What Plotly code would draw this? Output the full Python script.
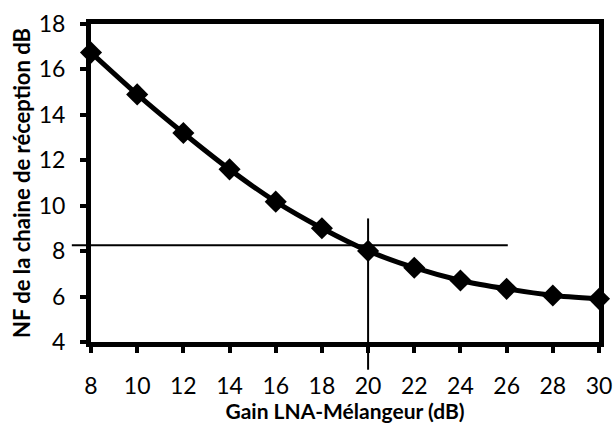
import plotly.graph_objects as go

gain_db = [8, 10, 12, 14, 16, 18, 20, 22, 24, 26, 28, 30]
nf_db = [16.74, 14.90, 13.20, 11.60, 10.18, 9.01, 8.01, 7.27, 6.71, 6.34, 6.05, 5.90]

x_ticks = list(range(8, 31, 2))
y_ticks = list(range(4, 19, 2))
x_range = [8, 30]
y_range = [4, 18]

# reference lines
hline_y = 8.26
hline_x = (7.17, 26.05)
vline_x = 20
vline_y = (2.78, 9.44)

font_family = "Lato, Open Sans, sans-serif"

fig = go.Figure()
fig.add_trace(go.Scatter(
    x=gain_db, y=nf_db, mode="lines+markers",
    line=dict(color="black", width=5, shape="spline", smoothing=0.6),
    marker=dict(symbol="diamond", size=17, color="black"),
    cliponaxis=False, showlegend=False, hoverinfo="skip",
))

def xp(v):
    return (v - x_range[0]) / (x_range[1] - x_range[0])

def yp(v):
    return (v - y_range[0]) / (y_range[1] - y_range[0])

fig.add_shape(type="line", xref="paper", yref="y",
              x0=xp(hline_x[0]), x1=xp(hline_x[1]), y0=hline_y, y1=hline_y,
              line=dict(color="black", width=2), layer="below")
fig.add_shape(type="line", xref="x", yref="paper",
              x0=vline_x, x1=vline_x, y0=yp(vline_y[0]), y1=yp(vline_y[1]),
              line=dict(color="black", width=2), layer="below")

axis_common = dict(
    showgrid=False, zeroline=False, showline=True, mirror=True,
    linecolor="black", linewidth=5, ticks="outside", ticklen=6,
    tickwidth=4, tickcolor="black", automargin=False,
    tickfont=dict(family=font_family, size=23, color="black"),
)

fig.update_xaxes(range=x_range, tickvals=x_ticks, ticklabelstandoff=13, **axis_common,
                 title=dict(text="<b>Gain LNA-Mélangeur (dB)</b>",
                            font=dict(family=font_family, size=21, color="black"),
                            standoff=2))
fig.update_yaxes(range=y_range, tickvals=y_ticks, ticklabelstandoff=10, **axis_common,
                 title=dict(text="<b>NF de la chaine de réception dB</b>",
                            font=dict(family=font_family, size=22, color="black"),
                            standoff=4))

fig.update_layout(
    width=614, height=423,
    margin=dict(l=91, r=15, t=24, b=81),
    plot_bgcolor="white", paper_bgcolor="white",
)

# remove the default page margin so the figure fills the window exactly
fig.write_html(
    "out.html",
    config={"displayModeBar": False},
    post_script="document.body.style.margin='0';document.body.style.overflow='hidden';",
)
